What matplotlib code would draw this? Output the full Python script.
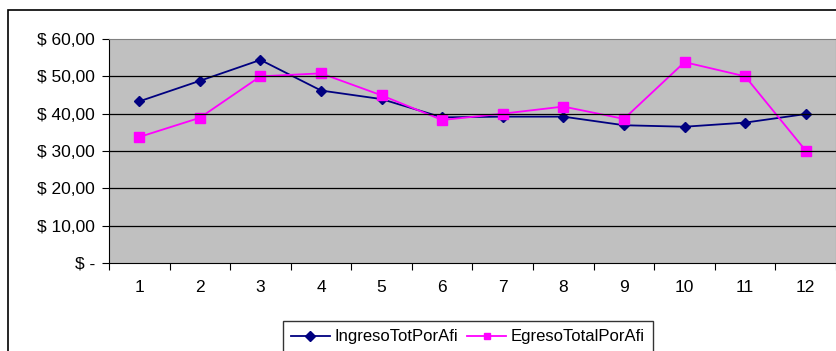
import matplotlib.pyplot as plt
from matplotlib.patches import Rectangle
from matplotlib.ticker import FuncFormatter, FixedLocator
import numpy as np

plt.rcParams['font.family'] = ['Liberation Sans', 'DejaVu Sans']

meses = [1, 2, 3, 4, 5, 6, 7, 8, 9, 10, 11, 12]
ingreso = [43.3, 48.8, 54.4, 46.2, 43.9, 39.0, 39.2, 39.2, 36.9, 36.5, 37.6, 39.9]
egreso = [33.75, 38.9, 50.0, 50.8, 44.9, 38.3, 40.0, 41.9, 38.6, 53.8, 50.0, 30.1]
yticks = [0, 10, 20, 30, 40, 50, 60]

W, H = 837, 351
fig = plt.figure(figsize=(W / 100, H / 100), dpi=100)
ax = fig.add_axes([109 / W, 1 - 263 / H, (836 - 109) / W, (263 - 39) / H])
ax.set_facecolor('#C0C0C0')

# outer chart border
fig.patches.append(Rectangle((8 / W, -0.1), 1.2, 1.1 - 10 / H, transform=fig.transFigure,
                             fill=False, edgecolor='black', linewidth=1.2))

x = np.arange(len(meses))
ax.plot(x, ingreso, color='#000080', marker='D', markersize=5.5, linewidth=1.3,
        label='IngresoTotPorAfi')
ax.plot(x, egreso, color='#FF00FF', marker='s', markersize=6.5, linewidth=1.3,
        label='EgresoTotalPorAfi')

ax.set_xlim(-0.5, len(meses) - 0.5)
ax.set_ylim(0, 60)
ax.set_yticks(yticks)
ax.yaxis.set_major_formatter(FuncFormatter(
    lambda v, p: '$ -' if v == 0 else '$ {:.2f}'.format(v).replace('.', ',')))
ax.xaxis.set_major_locator(FixedLocator(np.arange(-0.5, len(meses), 1)))
ax.set_xticklabels([], minor=False)
ax.set_xticks(x, [str(m) for m in meses], minor=True)
ax.tick_params(axis='x', which='minor', length=0, pad=12, labelsize=12.5)
ax.tick_params(axis='x', which='major', length=5, direction='out', color='black')
ax.tick_params(axis='y', length=5, direction='out', labelsize=12.5, pad=5)

for v in yticks[1:-1]:
    ax.axhline(v, color='black', linewidth=0.9)
ax.spines['top'].set_color('#808080')
ax.spines['right'].set_color('#808080')
ax.spines['left'].set_color('black')
ax.spines['bottom'].set_color('black')

leg = fig.legend(loc='upper left', bbox_to_anchor=(283 / W, 1 - 321 / H), ncol=2,
                 frameon=True, fancybox=False, edgecolor='black', fontsize=12,
                 handlelength=2.3, handletextpad=0.3, columnspacing=0.55,
                 borderpad=0.5, borderaxespad=0)
leg.get_frame().set_linewidth(1.0)
for h in leg.legend_handles:
    h.set_markersize(5)

fig.savefig('out.png', dpi=100)
